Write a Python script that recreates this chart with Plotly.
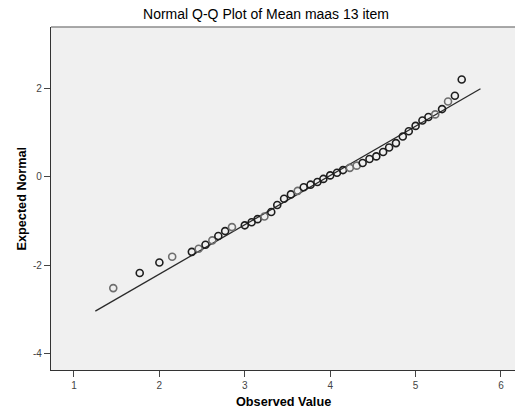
import plotly.graph_objects as go

# Observed values of the 13-item mean (multiples of 1/13) and their expected normal scores
observed_value = [1.46, 1.77, 2.00, 2.15, 2.38, 2.46, 2.54, 2.62, 2.69, 2.77,
                  2.85, 3.00, 3.08, 3.15, 3.23, 3.31, 3.38, 3.46, 3.54, 3.62,
                  3.69, 3.77, 3.85, 3.92, 4.00, 4.08, 4.15, 4.23, 4.31, 4.38,
                  4.46, 4.54, 4.62, 4.69, 4.77, 4.85, 4.92, 5.00, 5.08, 5.15,
                  5.23, 5.31, 5.38, 5.46, 5.54]
expected_normal = [-2.52, -2.18, -1.94, -1.81, -1.70, -1.63, -1.54, -1.44, -1.34, -1.23,
                   -1.14, -1.10, -1.03, -0.96, -0.90, -0.80, -0.64, -0.50, -0.40, -0.32,
                   -0.24, -0.18, -0.12, -0.05, 0.03, 0.09, 0.15, 0.20, 0.25, 0.31,
                   0.40, 0.46, 0.56, 0.66, 0.76, 0.91, 1.03, 1.15, 1.27, 1.35,
                   1.41, 1.53, 1.70, 1.83, 2.20]
# Single-case points are drawn lighter than tied (overlapping) ones
single_case = [1, 0, 0, 1, 0, 1, 0, 1, 0, 0,
               1, 0, 0, 0, 1, 0, 0, 0, 0, 1,
               0, 0, 0, 0, 0, 0, 0, 1, 1, 0,
               0, 0, 0, 0, 0, 0, 0, 0, 0, 0,
               1, 0, 1, 0, 0]

# Reference line endpoints (normal line through the mean and SD)
line_x = [1.25, 5.76]
line_y = [-3.04, 1.99]

x_ticks = [1, 2, 3, 4, 5, 6]
x_tick_text = ["1", "2", "3", "4", "5", "6"]
y_ticks = [-4, -2, 0, 2]
y_tick_text = ["-4", "-2", "0", "2"]

FONT = "Liberation Sans, Arial, sans-serif"

marker_colors = ["#6e6e6e" if s else "#1e1e1e" for s in single_case]

fig = go.Figure()
fig.add_trace(go.Scatter(
    x=line_x, y=line_y, mode="lines",
    line=dict(color="#2a2a2a", width=1.3),
    hoverinfo="skip", showlegend=False,
))
fig.add_trace(go.Scatter(
    x=observed_value, y=expected_normal, mode="markers",
    marker=dict(symbol="circle-open", size=7, color=marker_colors,
                line=dict(width=1.6, color=marker_colors)),
    showlegend=False,
))

fig.update_layout(
    width=515, height=410,
    margin=dict(l=51, r=0, t=27, b=40),
    paper_bgcolor="white",
    plot_bgcolor="#f0f0f0",
    font=dict(family=FONT, color="#000"),
    title=dict(text="Normal Q-Q Plot of Mean maas 13 item",
               font=dict(family=FONT, size=14, color="#000"),
               x=266 / 515, xanchor="center", xref="container",
               y=1 - 14 / 410, yanchor="middle", yref="container"),
    xaxis=dict(range=[0.731, 6.164], tickvals=x_ticks, ticktext=x_tick_text,
               showgrid=False, zeroline=False, showline=True,
               linecolor="#333", linewidth=1.3,
               ticks="outside", ticklen=6, tickcolor="#444", tickwidth=1,
               tickfont=dict(family=FONT, size=10, color="#444")),
    yaxis=dict(range=[-4.373, 3.387], tickvals=y_ticks, ticktext=y_tick_text,
               showgrid=False, zeroline=False, showline=True,
               linecolor="#333", linewidth=1.3,
               ticks="outside", ticklen=6, tickcolor="#444", tickwidth=1,
               tickfont=dict(family=FONT, size=10, color="#444")),
    shapes=[dict(type="line", xref="paper", yref="paper", x0=0, x1=1, y0=1, y1=1,
                 line=dict(color="#8c8c8c", width=1.3))],
    annotations=[
        dict(text="<b>Observed Value</b>", xref="paper", yref="paper",
             x=0.5, y=0, yshift=-32, xanchor="center", yanchor="middle",
             showarrow=False, font=dict(family=FONT, size=12.7, color="#000")),
        dict(text="<b>Expected Normal</b>", xref="paper", yref="paper",
             x=0, y=0.5, xshift=-30, xanchor="center", yanchor="middle",
             textangle=-90, showarrow=False,
             font=dict(family=FONT, size=12.7, color="#000")),
    ],
)

fig.write_html("out.html")
